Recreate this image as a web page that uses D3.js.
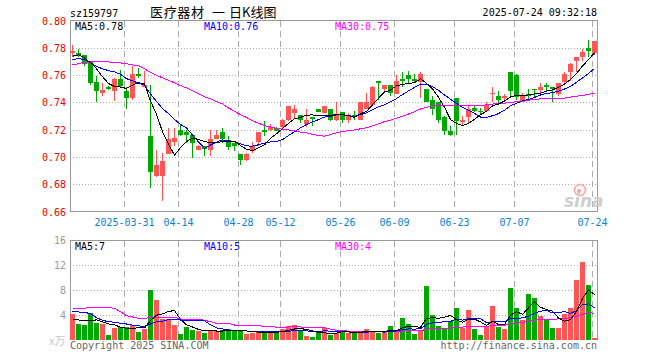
<!DOCTYPE html>
<html>
<head>
<meta charset="utf-8">
<script src="https://cdn.jsdelivr.net/npm/d3@7"></script>
<style>
body{margin:0;background:#fff;}
svg{display:block;}
</style>
</head>
<body>
<svg id="chart"></svg>
<script>
// 日付（取引日）
var dates = [
 "03-18","03-19","03-20","03-21","03-24","03-25","03-26","03-27","03-28","03-31",
 "04-01","04-02","04-03","04-07","04-08","04-09","04-10","04-11","04-14","04-15",
 "04-16","04-17","04-18","04-21","04-22","04-23","04-24","04-25","04-28","04-29",
 "04-30","05-06","05-07","05-08","05-09","05-12","05-13","05-14","05-15","05-16",
 "05-19","05-20","05-21","05-22","05-23","05-26","05-27","05-28","05-29","05-30",
 "06-03","06-04","06-05","06-06","06-09","06-10","06-11","06-12","06-13","06-16",
 "06-17","06-18","06-19","06-20","06-23","06-24","06-25","06-26","06-27","06-30",
 "07-01","07-02","07-03","07-04","07-07","07-08","07-09","07-10","07-11","07-14",
 "07-15","07-16","07-17","07-18","07-21","07-22","07-23","07-24"
];

var open = [
 .776,.776,.775,.770,.755,.747,.751,.748,.757,.748,
 .743,.761,.751,.715,.686,.686,.702,.711,.720,.718,
 .716,.705,.708,.705,.713,.718,.711,.710,.702,.698,
 .704,.711,.720,.720,.721,.722,.727,.732,.731,.724,
 .729,.735,.732,.735,.727,.733,.727,.731,.727,.735,
 .738,.756,.750,.753,.746,.757,.760,.757,.755,.750,
 .742,.740,.729,.719,.743,.726,.729,.736,.734,.734,
 .746,.745,.743,.762,.760,.740,.746,.750,.749,.753,
 .751,.746,.755,.762,.770,.773,.780,.776
];
var high = [
 .782,.779,.775,.770,.759,.754,.752,.758,.764,.751,
 .767,.765,.763,.753,.705,.703,.721,.721,.724,.720,
 .716,.709,.708,.720,.720,.721,.715,.710,.702,.703,
 .711,.718,.726,.724,.722,.728,.737,.738,.731,.735,
 .729,.735,.737,.735,.740,.733,.732,.734,.740,.747,
 .752,.756,.753,.753,.760,.762,.763,.761,.762,.750,
 .745,.740,.730,.723,.743,.730,.737,.737,.736,.740,
 .751,.748,.746,.762,.761,.747,.750,.750,.754,.754,
 .751,.754,.762,.769,.773,.779,.786,.785
];
var low = [
 .773,.773,.767,.753,.740,.745,.749,.741,.751,.735,
 .742,.758,.751,.677,.685,.668,.702,.708,.715,.710,
 .699,.705,.701,.701,.713,.710,.705,.704,.694,.697,
 .703,.708,.715,.719,.719,.721,.726,.728,.725,.722,
 .723,.733,.732,.726,.726,.725,.725,.727,.727,.735,
 .738,.742,.748,.745,.746,.751,.754,.754,.743,.740,
 .731,.725,.716,.715,.716,.723,.725,.733,.731,.734,
 .740,.739,.741,.744,.742,.740,.742,.743,.747,.748,
 .740,.745,.754,.756,.762,.770,.773,.775
];
var close = [
 .778,.775,.768,.754,.748,.749,.750,.757,.752,.743,
 .761,.759,.753,.689,.694,.697,.713,.714,.716,.716,
 .710,.708,.706,.713,.716,.713,.707,.708,.698,.702,
 .708,.718,.718,.722,.719,.727,.737,.735,.727,.727,
 .728,.733,.737,.727,.731,.727,.730,.730,.740,.740,
 .751,.754,.753,.747,.756,.756,.757,.756,.761,.740,
 .735,.727,.719,.716,.726,.727,.735,.734,.733,.738,
 .747,.742,.745,.748,.744,.745,.745,.749,.751,.751,
 .750,.754,.761,.768,.773,.777,.778,.785
];
// 出来高（万）
var volume = [
 4.16,2.56,2.4,4.32,2.72,2.56,0.8,1.92,2.08,2.08,
 2.4,1.28,1.76,8.0,6.4,3.36,3.36,2.4,0.96,2.08,
 1.6,1.44,1.12,1.6,1.44,1.6,1.76,1.44,1.44,0.96,
 1.12,1.28,1.28,1.12,1.28,1.76,2.24,2.4,1.44,0.64,
 0.48,1.28,1.92,0.8,1.1,1.6,1.2,1.12,1.2,1.76,
 1.36,1.12,1.36,2.24,1.44,3.52,2.56,0.96,1.6,8.64,
 4.0,2.24,1.76,3.04,5.12,2.0,4.8,1.76,0.8,2.24,
 5.44,2.08,1.76,8.32,5.12,3.2,7.36,6.72,3.84,3.2,
 1.92,1.92,4.16,5.12,9.6,12.48,8.8,0.32
];

// 表示範囲より前の値を含む移動平均の先頭部分
var ma5Head = [0.7738,0.7748,0.7726,0.769];
var ma10Head = [0.7713,0.7721,0.7713,0.7689,0.7665,0.7645,0.7633,0.7623,0.7606];
var ma30Head = [0.7674,0.7684,0.7694,0.7696,0.7696,0.7696,0.7696,0.7694,0.7689,0.7684,
 0.7674,0.7669,0.7645,0.7621,0.7599,0.7579,0.7562,0.7543,0.7523,0.7506,
 0.7486,0.7464,0.7440,0.7425,0.7406,0.7389,0.7359,0.7335,0.7310];
var vma5Head = [3.36,3.2,3.09,3.04];
var vma10Head = [4.59,4.48,4.43,4.21,3.57,3.15,2.93,2.83,2.67];
var vma30Head = [5.07,5.07,5.07,5.23,5.23,5.12,5.17,5.07,4.53,3.89,
 3.68,3.47,3.47,3.57,3.68,3.68,3.68,3.63,3.36,3.36,
 3.36,3.31,3.15,2.93,2.67,2.67,2.67,2.4,2.4];

var tickDates = ["03-31","04-14","04-28","05-12","05-26","06-09","06-23","07-07","07-24"];
var tickLabels = ["2025-03-31","04-14","04-28","05-12","05-26","06-09","06-23","07-07","07-24"];
var priceTicks = [0.66,0.68,0.70,0.72,0.74,0.76,0.78,0.80];
var volTicks = [4,8,12,16];

var code = "sz159797";
var timeText = "2025-07-24 09:32:18";

// 表示サイズを設定
var size = { width: 660, height: 360 };
var left = 70, right = 597;
var pTop = 20.5, pBottom = 211.5;
var vTop = 240, vBottom = 340;

var RED = "#ff5555", GREEN = "#00a800";
var MONO = "'DejaVu Sans Mono', 'Liberation Mono', monospace";

var x = d3.scaleBand().domain(dates).range([70, 598]);
var y = d3.scaleLinear().domain([0.66, 0.80]).range([pBottom, pTop]);
var yv = d3.scaleLinear().domain([0, 16]).range([vBottom, vTop]);

function movingAvg(arr, n, head) {
  return arr.map(function(d, i) {
    if (i < n - 1) return head[i];
    return d3.mean(arr.slice(i - n + 1, i + 1));
  });
}

var ma5 = movingAvg(close, 5, ma5Head);
var ma10 = movingAvg(close, 10, ma10Head);
var ma30 = movingAvg(close, 30, ma30Head);
var vma5 = movingAvg(volume, 5, vma5Head);
var vma10 = movingAvg(volume, 10, vma10Head);
var vma30 = movingAvg(volume, 30, vma30Head);

var svg = d3.select("#chart")
  .attr("width", size.width)
  .attr("height", size.height)
  .style("font-family", MONO)
  .style("font-size", "10px");

function cx(i) { return x(dates[i]) + 2.5; }
function up(i) { return close[i] >= open[i]; }

// ---- グリッド ----
function drawGrid(g, top, bottom, yScale, ticks) {
  g.selectAll("line.h").data(ticks).enter().append("line")
    .attr("x1", left).attr("x2", right)
    .attr("y1", function(d){ return Math.round(yScale(d)) + 0.5; })
    .attr("y2", function(d){ return Math.round(yScale(d)) + 0.5; })
    .attr("stroke", "#aaa").attr("stroke-dasharray", "1,2");
  g.selectAll("line.v").data(tickDates).enter().append("line")
    .attr("x1", function(d){ return x(d) + 0.5; })
    .attr("x2", function(d){ return x(d) + 0.5; })
    .attr("y1", top).attr("y2", bottom)
    .attr("stroke", "#aaa").attr("stroke-dasharray", "6,4");
}

var grid = svg.append("g").attr("shape-rendering", "crispEdges");
drawGrid(grid.append("g"), pTop, pBottom, y, priceTicks.slice(1, -1));
drawGrid(grid.append("g"), vTop + 0.5, vBottom, yv, [4, 8, 12]);

// ---- 外枠 ----
svg.append("path")
  .attr("d", "M" + (left + 0.5) + "," + pBottom + "V" + pTop + "H" + (right + 0.5) + "V" + pBottom + "H" + (left + 0.5))
  .attr("fill", "none").attr("stroke", "#999").attr("shape-rendering", "crispEdges");
svg.append("path")
  .attr("d", "M" + (left + 0.5) + "," + vBottom + "V" + (vTop + 0.5) + "H" + (right + 0.5) + "V" + vBottom)
  .attr("fill", "none").attr("stroke", "#999").attr("shape-rendering", "crispEdges");

// ---- 軸ラベル ----
svg.append("g").selectAll("text").data(priceTicks).enter().append("text")
  .attr("x", 66).attr("y", function(d){ return y(d) + 4; })
  .attr("text-anchor", "end").attr("fill", "#e80000")
  .text(function(d){ return d3.format(".2f")(d); });

svg.append("g").selectAll("text").data(volTicks).enter().append("text")
  .attr("x", 66).attr("y", function(d){ return yv(d) + 4; })
  .attr("text-anchor", "end").attr("fill", "#999")
  .text(function(d){ return d; });

svg.append("text").attr("x", 49).attr("y", 345)
  .attr("fill", "#c8c8c8").style("font-family", "'Noto Sans CJK SC', sans-serif").style("font-size", "11px")
  .text("x万");

svg.append("g").selectAll("text").data(tickDates).enter().append("text")
  .attr("x", function(d){ return x(d) + 0.5; }).attr("y", 225.5)
  .attr("text-anchor", "middle").attr("fill", "#0a82d4")
  .text(function(d, i){ return tickLabels[i]; });

// ---- ローソク足 ----
var candles = svg.append("g").attr("shape-rendering", "crispEdges");
candles.selectAll("line").data(dates).enter().append("line")
  .attr("x1", function(d, i){ return cx(i); })
  .attr("x2", function(d, i){ return cx(i); })
  .attr("y1", function(d, i){ return y(high[i]); })
  .attr("y2", function(d, i){ return y(low[i]); })
  .attr("stroke", function(d, i){ return up(i) ? RED : GREEN; });
candles.selectAll("rect").data(dates).enter().append("rect")
  .attr("x", function(d){ return x(d); })
  .attr("width", x.step() - 1)
  .attr("y", function(d, i){ return y(Math.max(open[i], close[i])); })
  .attr("height", function(d, i){ return Math.max(1.5, Math.abs(y(open[i]) - y(close[i]))); })
  .attr("fill", function(d, i){ return up(i) ? RED : GREEN; });

// ---- 出来高 ----
svg.append("g").attr("shape-rendering", "crispEdges")
  .selectAll("rect").data(volume).enter().append("rect")
  .attr("x", function(d, i){ return x(dates[i]); })
  .attr("width", x.step() - 1)
  .attr("y", function(d){ return yv(d); })
  .attr("height", function(d){ return vBottom - yv(d); })
  .attr("fill", function(d, i){ return up(i) ? RED : GREEN; });

// ---- 移動平均線 ----
var line = d3.line().x(function(d, i){ return cx(i); });
function drawLine(values, scale, color) {
  svg.append("path")
    .datum(values)
    .attr("d", line.y(function(d){ return scale(d); }))
    .attr("fill", "none").attr("stroke", color).attr("stroke-width", 1)
    .attr("shape-rendering", "crispEdges");
}
drawLine(ma30, y, "#ff00ff");
drawLine(ma10, y, "#0000ff");
drawLine(ma5, y, "#000");
drawLine(vma30, yv, "#ff00ff");
drawLine(vma10, yv, "#0000ff");
drawLine(vma5, yv, "#000");

// ---- 凡例 ----
var last = dates.length - 1;
function legend(yy, items) {
  items.forEach(function(it) {
    svg.append("text").attr("x", it[0]).attr("y", yy).attr("fill", it[1]).text(it[2]);
  });
}
legend(30, [
  [75, "#000", "MA5:" + d3.format(".2f")(ma5[last])],
  [204, "#0000ff", "MA10:" + d3.format(".2f")(ma10[last])],
  [335, "#ff00ff", "MA30:" + d3.format(".2f")(ma30[last])]
]);
legend(250, [
  [75, "#000", "MA5:" + d3.format(".0f")(vma5[last])],
  [204, "#0000ff", "MA10:" + d3.format(".0f")(vma10[last])],
  [335, "#ff00ff", "MA30:" + d3.format(".0f")(vma30[last])]
]);

// ---- タイトル ----
svg.append("text").attr("x", 70).attr("y", 16.5).attr("fill", "#000").text(code);
svg.append("text").attr("x", right).attr("y", 16).attr("text-anchor", "end").attr("fill", "#000").text(timeText);
var title = svg.append("g")
  .style("font-family", "'Noto Sans CJK SC', sans-serif").style("font-size", "13px").attr("fill", "#000");
title.append("text").attr("x", 150).attr("y", 16.5).attr("textLength", 54).text("医疗器材");
title.append("text").attr("x", 212).attr("y", 16.5).text("一");
title.append("text").attr("x", 229).attr("y", 16.5).text("日K线图");

// ---- フッター ----
svg.append("text").attr("x", 70).attr("y", 348.5).attr("fill", "#666").text("Copyright 2025 SINA.COM");
svg.append("text").attr("x", right).attr("y", 348.5).attr("text-anchor", "end").attr("fill", "#666").text("http://finance.sina.com.cn");

// ---- sina ロゴ ----
var logo = svg.append("g");
logo.append("circle").attr("cx", 580).attr("cy", 190).attr("r", 5.5)
  .attr("fill", "none").attr("stroke", "#f4b4b4").attr("stroke-width", 2);
logo.append("circle").attr("cx", 579).attr("cy", 191).attr("r", 2).attr("fill", "#f0a0a0");
logo.append("text").attr("x", 564).attr("y", 207)
  .style("font-family", "'DejaVu Sans', sans-serif").style("font-size", "17px")
  .style("font-style", "italic").style("font-weight", "bold")
  .attr("fill", "#cfcfcf").text("sina");
</script>
</body>
</html>
